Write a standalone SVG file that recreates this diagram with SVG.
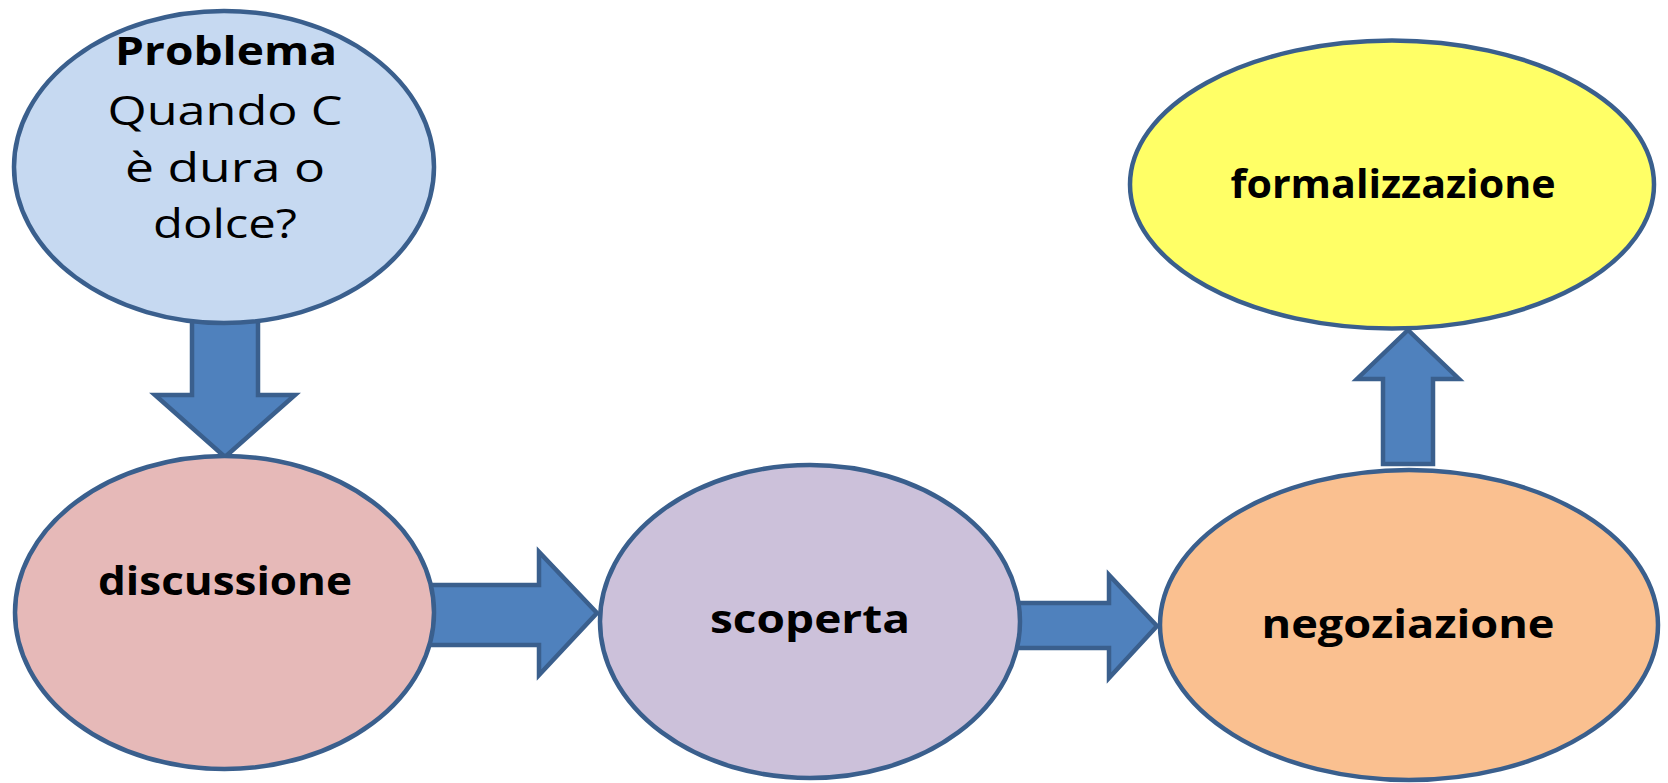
<svg xmlns="http://www.w3.org/2000/svg" width="1668" height="783" viewBox="0 0 1668 783">
  <style>
    .node { stroke: #3a5f8d; stroke-width: 4.5; }
    .arrow { fill: #4f81bd; stroke: #3a5f8d; stroke-width: 4.5; stroke-linejoin: miter; }
    .lbl { font-family: "Open Sans", "Noto Sans", "DejaVu Sans", sans-serif; font-size: 40px; fill: #000; text-anchor: middle; }
    .b { font-weight: 700; }
  </style>
  <rect width="1668" height="783" fill="#ffffff"/>

  <!-- block arrows between the stages -->
  <g id="connectors">
    <polygon class="arrow" points="192,300 258,300 258,395 295,395 225,457 155,395 192,395"/>
    <polygon class="arrow" points="420,585 539,585 539,552 597,613 539,675 539,645 420,645"/>
    <polygon class="arrow" points="1010,603 1109,603 1109,575 1157,626 1109,678 1109,648 1010,648"/>
    <polygon class="arrow" points="1383,464 1383,379 1357,379 1408,330 1459,379 1433,379 1433,464"/>
  </g>

  <g id="problema">
    <ellipse class="node" cx="224" cy="167" rx="210" ry="156" fill="#c6d9f1"/>
    <text class="lbl b" x="226" y="65" textLength="222" lengthAdjust="spacingAndGlyphs">Problema</text>
    <text class="lbl" x="225" y="125" textLength="235" lengthAdjust="spacingAndGlyphs">Quando C</text>
    <text class="lbl" x="225" y="182" textLength="200" lengthAdjust="spacingAndGlyphs">è dura o</text>
    <text class="lbl" x="225" y="238" textLength="144" lengthAdjust="spacingAndGlyphs">dolce?</text>
  </g>

  <g id="discussione">
    <ellipse class="node" cx="224.5" cy="612.5" rx="209.5" ry="156.5" fill="#e6b9b8"/>
    <text class="lbl b" x="225" y="595" textLength="254" lengthAdjust="spacingAndGlyphs">discussione</text>
  </g>

  <g id="scoperta">
    <ellipse class="node" cx="810" cy="621.5" rx="210" ry="156.5" fill="#ccc1da"/>
    <text class="lbl b" x="810" y="633" textLength="200" lengthAdjust="spacingAndGlyphs">scoperta</text>
  </g>

  <g id="negoziazione">
    <ellipse class="node" cx="1409" cy="625" rx="249" ry="155" fill="#fac090"/>
    <text class="lbl b" x="1408" y="638" textLength="293" lengthAdjust="spacingAndGlyphs">negoziazione</text>
  </g>

  <g id="formalizzazione">
    <ellipse class="node" cx="1392" cy="184.5" rx="262" ry="144" fill="#ffff66"/>
    <text class="lbl b" x="1393" y="198" textLength="325" lengthAdjust="spacingAndGlyphs">formalizzazione</text>
  </g>
</svg>
